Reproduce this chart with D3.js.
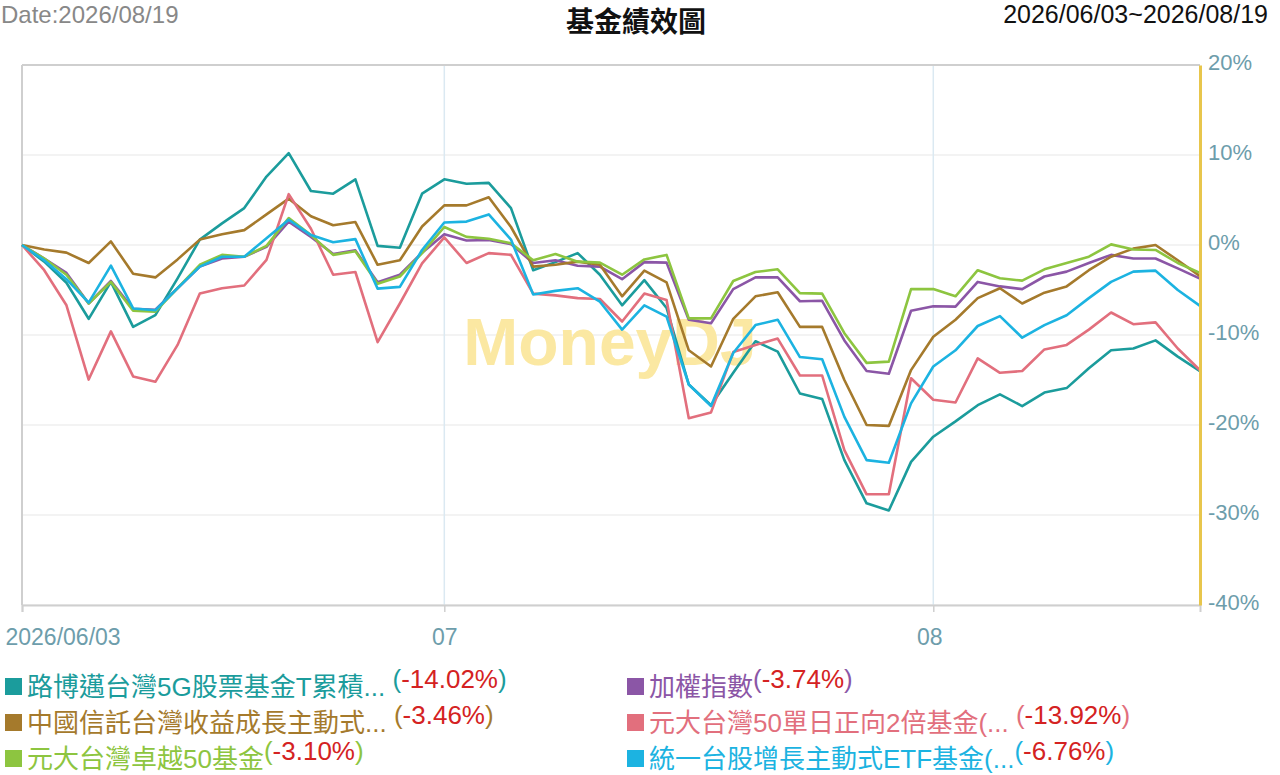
<!DOCTYPE html>
<html>
<head>
<meta charset="utf-8"/>
<script src="https://d3js.org/d3.v7.min.js"></script>
<style>
  body { margin: 0; background: #fff; }
  svg text { font-family: "Liberation Sans", Arial, "Noto Sans CJK TC", sans-serif; }
</style>
</head>
<body>
<script>
// trading days shown on the chart
var dates = [
  "2026/06/03","2026/06/04","2026/06/05","2026/06/08","2026/06/09","2026/06/10","2026/06/11","2026/06/12",
  "2026/06/15","2026/06/16","2026/06/17","2026/06/18","2026/06/22","2026/06/23","2026/06/24","2026/06/25",
  "2026/06/26","2026/06/29","2026/06/30",
  "2026/07/01","2026/07/02","2026/07/03","2026/07/06","2026/07/07","2026/07/08","2026/07/09","2026/07/10",
  "2026/07/13","2026/07/14","2026/07/15","2026/07/16","2026/07/17","2026/07/20","2026/07/21","2026/07/22",
  "2026/07/23","2026/07/24","2026/07/27","2026/07/28","2026/07/29","2026/07/30",
  "2026/08/03","2026/08/04","2026/08/05","2026/08/06","2026/08/07","2026/08/10","2026/08/11","2026/08/12",
  "2026/08/13","2026/08/14","2026/08/17","2026/08/18","2026/08/19"
];

var xTickDates  = ["2026/06/03", "2026/07/01", "2026/08/03"];
var xTickLabels = ["2026/06/03", "07", "08"];
var yTicks = [-40, -30, -20, -10, 0, 10, 20];

// cumulative return, %
var tealVals = [0,-1.85,-4.2,-8.2,-4.1,-9.1,-7.8,-3.7,0.6,2.4,4.1,7.6,10.2,6.0,5.7,7.3,-0.1,-0.3,5.7,
  7.3,6.8,6.9,4.1,-2.8,-1.9,-0.9,-3.3,-6.7,-3.9,-7.0,-15.5,-17.8,-14.2,-10.7,-11.85,-16.5,-17.1,-23.9,-28.7,-29.5,-24.1,
  -21.3,-19.6,-17.8,-16.6,-17.9,-16.4,-15.9,-13.7,-11.7,-11.5,-10.6,-12.4,-14.02];
var purpleVals = [0,-1.5,-3.1,-6.5,-4.0,-7.1,-7.2,-4.8,-2.4,-1.5,-1.3,-0.2,2.6,0.9,-1.0,-0.6,-4.15,-3.3,-0.85,
  1.2,0.5,0.56,0.1,-2.0,-1.7,-2.3,-2.4,-3.8,-1.9,-1.96,-8.3,-8.7,-4.9,-3.6,-3.6,-6.25,-6.2,-10.6,-14.0,-14.3,-7.3,
  -6.8,-6.85,-4.1,-4.6,-4.9,-3.5,-2.96,-2.0,-1.1,-1.5,-1.5,-2.6,-3.74];
var brownVals = [0,-0.5,-0.85,-2.0,0.4,-3.2,-3.6,-1.6,0.6,1.2,1.65,3.4,5.15,3.2,2.2,2.55,-2.2,-1.7,2.05,
  4.4,4.4,5.3,2.0,-2.4,-2.2,-1.85,-2.2,-5.7,-2.85,-4.15,-11.7,-13.5,-8.2,-5.7,-5.25,-9.1,-9.1,-15.0,-20.0,-20.1,-13.9,
  -10.2,-8.3,-5.9,-4.8,-6.5,-5.3,-4.6,-2.8,-1.3,-0.4,0.0,-1.7,-3.46];
var redVals = [0,-2.8,-6.7,-14.95,-9.6,-14.6,-15.2,-11.1,-5.4,-4.8,-4.5,-1.65,5.65,1.8,-3.3,-3.0,-10.8,-6.5,-2.05,
  0.85,-2.0,-0.9,-1.1,-5.4,-5.6,-5.9,-6.0,-8.5,-5.4,-6.1,-19.25,-18.6,-11.9,-11.1,-10.4,-14.5,-14.5,-22.8,-27.7,-27.7,-14.8,
  -17.2,-17.5,-12.6,-14.2,-14.0,-11.6,-11.1,-9.4,-7.5,-8.8,-8.6,-11.5,-13.92];
var greenVals = [0,-1.5,-3.3,-6.5,-4.1,-7.3,-7.4,-4.8,-2.2,-1.1,-1.3,-0.1,3.0,1.1,-1.1,-0.7,-4.3,-3.5,-0.9,
  2.0,0.9,0.7,0.2,-1.7,-1.0,-1.85,-1.96,-3.3,-1.6,-1.1,-8.15,-8.15,-4.0,-3.0,-2.7,-5.35,-5.4,-9.8,-13.1,-12.96,-4.9,
  -4.9,-5.7,-2.8,-3.7,-3.96,-2.7,-2.0,-1.3,0.07,-0.5,-0.55,-2.0,-3.10];
var cyanVals = [0,-1.7,-3.8,-6.4,-2.3,-7.05,-7.25,-4.8,-2.4,-1.3,-1.3,0.74,2.8,1.1,0.3,0.65,-4.85,-4.65,-0.56,
  2.5,2.6,3.4,0.6,-5.5,-5.1,-4.8,-6.3,-9.4,-6.7,-7.96,-15.5,-17.9,-12.0,-8.9,-8.3,-12.45,-12.7,-19.1,-23.9,-24.2,-17.6,
  -13.5,-11.7,-9.0,-7.9,-10.3,-8.9,-7.8,-5.9,-4.1,-2.96,-2.85,-5.0,-6.76];

var seriesNames = ["路博邁台灣5G股票基金T累積... ", "加權指數", "中國信託台灣收益成長主動式... ",
                   "元大台灣50單日正向2倍基金(... ", "元大台灣卓越50基金", "統一台股增長主動式ETF基金(..."];
var seriesColors = ["#1b9c9c", "#8b56a6", "#a57a2c", "#e26f7d", "#8dc540", "#1cb3e1"];
var seriesVals = [tealVals, purpleVals, brownVals, redVals, greenVals, cyanVals];
var lastLabels = ["-14.02%", "-3.74%", "-3.46%", "-13.92%", "-3.10%", "-6.76%"];

// layout
var width = 1280, height = 775;
var plotL = 22, plotR = 1200, plotT = 65, plotB = 605;
var axisColor = "#6d9dab";

var svg = d3.select("body").append("svg")
  .attr("width", width)
  .attr("height", height);

var x = d3.scalePoint().domain(dates).range([plotL, plotR]);
var y = d3.scaleLinear().domain([-40, 20]).range([plotB, plotT]);

// header texts
svg.append("text").attr("x", 1).attr("y", 23)
  .attr("font-size", 24).attr("fill", "#888").text("Date:2026/08/19");
svg.append("text").attr("x", 636).attr("y", 32).attr("text-anchor", "middle")
  .attr("font-size", 28).attr("font-weight", "bold").attr("fill", "#111").text("基金績效圖");
svg.append("text").attr("x", 1268).attr("y", 23).attr("text-anchor", "end")
  .attr("font-size", 25).attr("fill", "#111").text("2026/06/03~2026/08/19");

// horizontal grid
svg.append("g").selectAll("line")
  .data(yTicks)
  .enter().append("line")
  .attr("x1", plotL).attr("x2", plotR)
  .attr("y1", function(d){ return y(d); })
  .attr("y2", function(d){ return y(d); })
  .attr("stroke", "#efefef").attr("stroke-width", 1.5);

// vertical grid at month starts
svg.append("g").selectAll("line")
  .data(xTickDates.slice(1))
  .enter().append("line")
  .attr("x1", function(d){ return x(d); })
  .attr("x2", function(d){ return x(d); })
  .attr("y1", plotT).attr("y2", plotB)
  .attr("stroke", "#dbe9f2").attr("stroke-width", 1.5);

// plot frame (top + left)
svg.append("line").attr("x1", plotL).attr("x2", plotR).attr("y1", plotT).attr("y2", plotT)
  .attr("stroke", "#cfcfcf").attr("stroke-width", 2);
svg.append("line").attr("x1", plotL).attr("x2", plotL).attr("y1", plotT).attr("y2", plotB)
  .attr("stroke", "#cfcfcf").attr("stroke-width", 2);

// watermark
svg.append("text").attr("x", 610).attr("y", 365).attr("text-anchor", "middle")
  .attr("font-size", 66).attr("font-weight", "bold")
  .attr("fill", "#fbe8a2").text("MoneyDJ");

// x axis
var xAxis = svg.append("g")
  .attr("transform", "translate(0," + plotB + ")")
  .call(d3.axisBottom(x).tickValues(xTickDates).tickSize(7)
    .tickFormat(function(d, i){ return xTickLabels[i]; }));
xAxis.select(".domain").attr("stroke", "#cfcfcf").attr("stroke-width", 2);
xAxis.selectAll(".tick line").attr("stroke", "#cfcfcf").attr("stroke-width", 1.5);
xAxis.selectAll(".tick text")
  .attr("font-size", 23).attr("fill", axisColor)
  .attr("dy", null).attr("y", 40)
  .attr("font-family", "Liberation Sans, Arial, sans-serif");
xAxis.selectAll(".tick text").filter(function(d, i){ return i == 0; })
  .attr("text-anchor", "start").attr("x", -17);
xAxis.selectAll(".tick text").filter(function(d, i){ return i == 2; })
  .attr("x", -4);

// lines
var line = d3.line()
  .x(function(d, i){ return x(dates[i]); })
  .y(function(d){ return y(d); });

svg.append("g").selectAll("path")
  .data(seriesVals)
  .enter().append("path")
  .attr("d", function(d){ return line(d); })
  .attr("fill", "none")
  .attr("stroke", function(d, i){ return seriesColors[i]; })
  .attr("stroke-width", 2.6)
  .attr("stroke-linejoin", "round");

// right y axis
var yAxis = svg.append("g")
  .attr("transform", "translate(" + plotR + ",0)")
  .call(d3.axisRight(y).tickValues(yTicks).tickSize(0).tickPadding(8)
    .tickFormat(function(d){ return d + "%"; }));
yAxis.select(".domain").attr("stroke", "#e8c64c").attr("stroke-width", 3);
yAxis.selectAll(".tick text")
  .attr("font-size", 22).attr("fill", axisColor)
  .attr("dy", "0.2em")
  .attr("font-family", "Liberation Sans, Arial, sans-serif");

// legend: two columns, three rows (row-major order)
var legend = svg.append("g");
seriesNames.forEach(function(name, i){
  var col = i % 2, row = Math.floor(i / 2);
  var lx = col == 0 ? 5 : 627;
  var ly = 696 + row * 36;
  legend.append("rect")
    .attr("x", lx).attr("y", ly - 18)
    .attr("width", 17).attr("height", 17)
    .attr("fill", seriesColors[i]);
  var t = legend.append("text")
    .attr("x", lx + 22).attr("y", ly)
    .attr("font-size", 26)
    .attr("fill", seriesColors[i]);
  t.append("tspan").text(name).style("white-space", "pre");
  t.append("tspan").attr("dy", -8).text("(");
  t.append("tspan").attr("fill", "#d42222").text(lastLabels[i]);
  t.append("tspan").text(")");
});
</script>
</body>
</html>
